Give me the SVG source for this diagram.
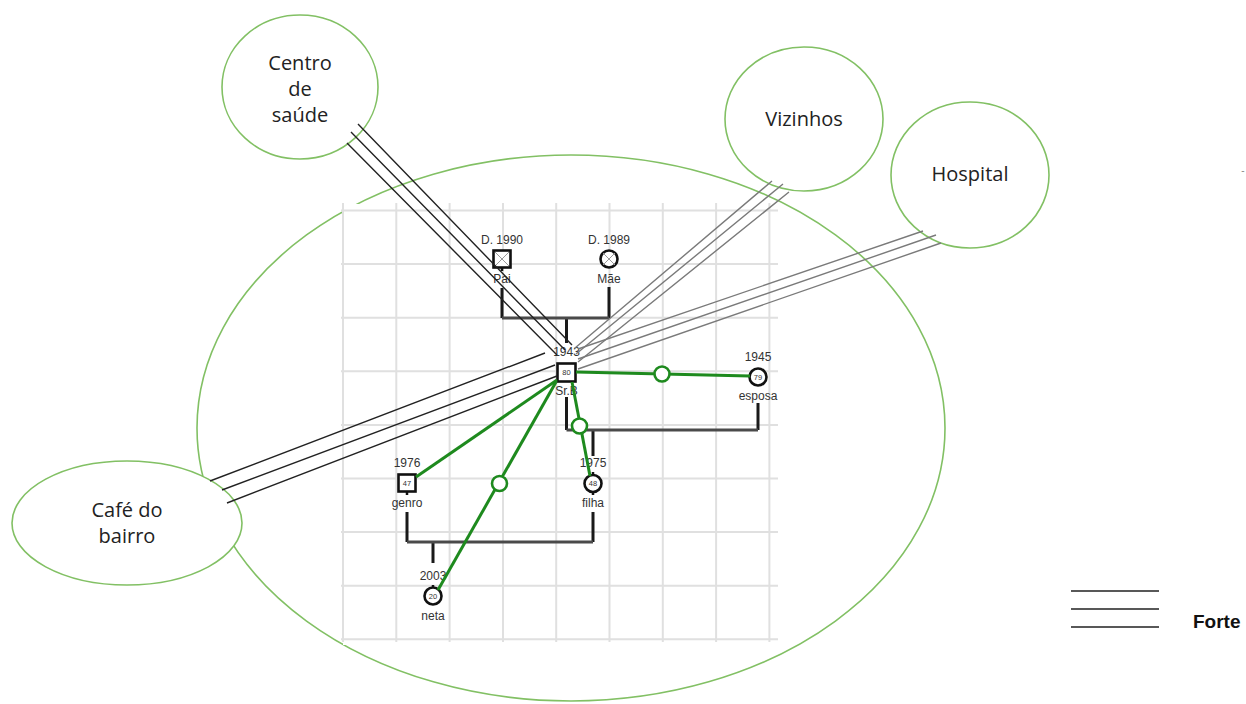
<svg xmlns="http://www.w3.org/2000/svg" width="1246" height="704" viewBox="0 0 1246 704">
<style>
.eco{fill:#fff;stroke:#82c064;stroke-width:1.6}
.big{fill:none;stroke:#82c064;stroke-width:1.6}
.lbl{font-family:"Open Sans","Liberation Sans",sans-serif;font-size:20px;fill:#222;text-anchor:middle}
.g{stroke:#e0e0e0;stroke-width:2}
.gt{font-family:"Liberation Sans",Arial,sans-serif;font-size:12px;fill:#333;text-anchor:middle}
.num{font-family:"Liberation Sans",Arial,sans-serif;font-size:7.5px;fill:#333;text-anchor:middle}
.sym{fill:#fff;stroke:#111;stroke-width:2.6}
.xl{stroke:#999;stroke-width:1}
.v{stroke:#1a1a1a;stroke-width:3;fill:none}
.h{stroke:#4a4a4a;stroke-width:3;fill:none}
.st{stroke:#111;stroke-width:2.5;fill:none}
.em{stroke:#1e8a1e;stroke-width:3;fill:none}
.emc{fill:#fff;stroke:#1e8a1e;stroke-width:2.6}
.blk{stroke:#222;stroke-width:1.4;fill:none}
.gry{stroke:#7a7a7a;stroke-width:1.4;fill:none}
</style>
<rect width="1246" height="704" fill="#fff"/>
<g id="ecomapa">
<ellipse class="big" cx="571" cy="428" rx="374" ry="273"/>
</g>
<g id="grid">
<rect x="343" y="204" width="436" height="441" fill="#fff"/>
<path class="g" d="M343 203V642M396.3 203V642M449.6 203V642M503 203V642M556.2 203V642M609.5 203V642M662.8 203V642M716.1 203V642M769.4 203V642"/>
<path class="g" d="M341 210.5H778M341 264H778M341 317.7H778M341 371.3H778M341 425H778M341 478.5H778M341 532H778M341 585.7H778M341 639.3H778"/>
</g>
<g id="centro-de-saude">
<ellipse class="eco" cx="300" cy="87" rx="78" ry="72"/>
<text class="lbl" x="300" y="70">Centro</text>
<text class="lbl" x="300" y="96">de</text>
<text class="lbl" x="300" y="122">saúde</text>
</g>
<g id="vizinhos">
<ellipse class="eco" cx="804" cy="119" rx="79" ry="72"/>
<text class="lbl" x="804" y="126">Vizinhos</text>
</g>
<g id="hospital">
<ellipse class="eco" cx="970" cy="175" rx="79" ry="73"/>
<text class="lbl" x="970" y="181">Hospital</text>
</g>
<g id="cafe-do-bairro">
<ellipse class="eco" cx="127" cy="523" rx="115" ry="62"/>
<text class="lbl" x="127" y="517">Café do</text>
<text class="lbl" x="127" y="543">bairro</text>
</g>
<g id="genogram-lines">
<path class="v" d="M502 288V318M609 287V318M566.5 318V343"/>
<path class="h" d="M502 318H609"/>
<path class="v" d="M566.5 397V430M758 403V430M593 430V456"/>
<path class="h" d="M566.5 430H758"/>
<path class="v" d="M407 512V542M593 512V542M433 542V563"/>
<path class="h" d="M407 542H593"/>
</g>
<g id="pai">
<rect class="sym" x="493.5" y="250.5" width="17" height="17"/>
<path class="xl" d="M495 252L509 266M509 252L495 266"/>
<path class="st" d="M502 268V271"/>
<text class="gt" x="502" y="244">D. 1990</text>
<text class="gt" x="502" y="283">Pai</text>
</g>
<g id="mae">
<circle class="sym" cx="609" cy="259" r="8.5"/>
<path class="xl" d="M603 253L615 265M615 253L603 265"/>
<text class="gt" x="609" y="244">D. 1989</text>
<text class="gt" x="609" y="283">Mãe</text>
</g>
<g id="sr-b">
<rect class="sym" x="557.5" y="363.5" width="18" height="18"/>
<text class="num" x="566.5" y="375">80</text>
<text class="gt" x="566.5" y="356">1943</text>
<text class="gt" x="566.5" y="395">Sr.B</text>
</g>
<g id="esposa">
<circle class="sym" cx="758" cy="377" r="8.5"/>
<text class="num" x="758" y="380">79</text>
<text class="gt" x="758" y="361">1945</text>
<text class="gt" x="758" y="400">esposa</text>
</g>
<g id="genro">
<rect class="sym" x="398.5" y="474.5" width="17" height="17"/>
<path class="st" d="M407 492V495"/>
<text class="num" x="407" y="486">47</text>
<text class="gt" x="407" y="467">1976</text>
<text class="gt" x="407" y="507">genro</text>
</g>
<g id="filha">
<circle class="sym" cx="593" cy="483.5" r="8.5"/>
<path class="st" d="M593 472V475M593 492V495"/>
<text class="num" x="593" y="486">48</text>
<text class="gt" x="593" y="467">1975</text>
<text class="gt" x="593" y="507">filha</text>
</g>
<g id="neta">
<circle class="sym" cx="433" cy="596" r="8.5"/>
<path class="st" d="M433 585V588"/>
<text class="num" x="433" y="599">20</text>
<text class="gt" x="433" y="580">2003</text>
<text class="gt" x="433" y="620">neta</text>
</g>
<g id="relacoes">
<path class="em" d="M576 372L750 376"/>
<circle class="emc" cx="662" cy="374" r="7.5"/>
<path class="em" d="M557 380L416 477"/>
<path class="em" d="M556 382L438 590"/>
<circle class="emc" cx="499.5" cy="483.5" r="7.5"/>
<path class="em" d="M572 382L590 476"/>
<circle class="emc" cx="579.5" cy="426" r="7.5"/>
</g>
<g id="ligacoes">
<path class="blk" d="M358 124L572 345M351 132L565 350M347 143L557 355"/>
<path class="gry" d="M772 181L575 348M783 184L576 354M789 192L578 362"/>
<path class="gry" d="M923 231L578 349M936 235L578 359M941 243L578 369"/>
<path class="blk" d="M210 481L545 353M222 490L555 365M227 503L557 376"/>
</g>
<g id="legenda">
<path class="blk" d="M1071 591H1159M1071 609H1159M1071 627H1159"/>
<text x="1193" y="628" font-family="'Liberation Sans',Arial,sans-serif" font-size="19" font-weight="bold" fill="#111">Forte</text>
<text x="1243" y="174" font-family="'Liberation Sans',Arial,sans-serif" font-size="10" fill="#888" text-anchor="middle">-</text>
</g>
</svg>
